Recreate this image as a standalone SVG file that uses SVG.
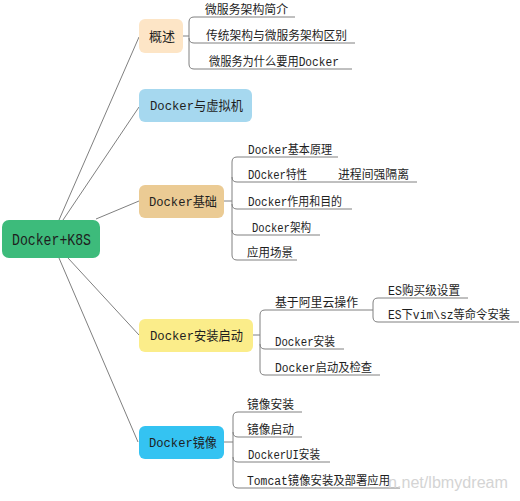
<svg xmlns="http://www.w3.org/2000/svg" width="520" height="501" viewBox="0 0 520 501">
<style>
.ln{fill:none;stroke:#808080;stroke-width:1}
.nt{font-family:"Liberation Mono","Noto Sans CJK SC",monospace;font-size:13px;fill:#1e1e1e}
.ct{font-family:"Liberation Mono","Noto Sans CJK SC",monospace;font-size:12px;fill:#1e1e1e}
.wm{font-family:"Liberation Sans","DejaVu Sans",sans-serif;font-size:16px;fill:#d4d4d4}
</style>
<rect width="520" height="501" fill="#ffffff"/>
<g id="connectors">
<path class="ln" d="M59,220 L139,37 M63,220 L139,107 M96,219 L139,201 M68,258 L139,335 M59,258 L138,442"/>
<path class="ln" d="M183,36 H189 M194,17 Q189,17 189,22 V64 Q189,69 194,69 H352 M194,17 H295 M189,38 Q189,43 194,43 H355"/>
<path class="ln" d="M224,201 H232 M237,157 Q232,157 232,162 V255 Q232,260 237,260 H297 M237,157 H338 M232,177 Q232,182 237,182 H417 M232,204 Q232,209 237,209 H352 M232,230 Q232,235 237,235 H320"/>
<path class="ln" d="M253,335 H260 M265,310 Q260,310 260,315 V370 Q260,375 265,375 H380 M265,310 H373 M260,344 Q260,349 265,349 H344 M378,298 Q373,298 373,303 V317 Q373,322 378,322 H519 M378,298 H468"/>
<path class="ln" d="M224,442 H233 M238,412 Q233,412 233,417 V483 Q233,488 238,488 H400 M238,412 H302 M233,432 Q233,437 238,437 H302 M233,457 Q233,462 238,462 H330"/>
</g>
<g id="root">
<rect x="2" y="220" width="98" height="38" rx="7" fill="#3dbb7b"/>
<text class="nt" style="font-size:16px" x="12" y="245" textLength="79" lengthAdjust="spacingAndGlyphs">Docker+K8S</text>
</g>
<g id="n-overview">
<rect x="139" y="19" width="44" height="34" rx="6" fill="#fde5c6"/>
<text class="nt" x="149" y="41" textLength="26" lengthAdjust="spacingAndGlyphs">概述</text>
</g>
<g id="n-vm">
<rect x="139" y="89" width="113" height="33" rx="6" fill="#a6d8ef"/>
<text class="nt" x="150" y="110" textLength="93" lengthAdjust="spacingAndGlyphs">Docker与虚拟机</text>
</g>
<g id="n-basic">
<rect x="139" y="185" width="85" height="33" rx="6" fill="#ebcb94"/>
<text class="nt" x="149" y="206" textLength="68" lengthAdjust="spacingAndGlyphs">Docker基础</text>
</g>
<g id="n-install">
<rect x="139" y="319" width="114" height="33" rx="6" fill="#fbed8a"/>
<text class="nt" x="150" y="340" textLength="93" lengthAdjust="spacingAndGlyphs">Docker安装启动</text>
</g>
<g id="n-image">
<rect x="139" y="426" width="85" height="33" rx="6" fill="#34c3f2"/>
<text class="nt" x="149" y="447" textLength="68" lengthAdjust="spacingAndGlyphs">Docker镜像</text>
</g>
<g id="c-overview">
<text class="ct" x="205" y="14" textLength="83" lengthAdjust="spacingAndGlyphs">微服务架构简介</text>
<text class="ct" x="206" y="40" textLength="141" lengthAdjust="spacingAndGlyphs">传统架构与微服务架构区别</text>
<text class="ct" x="209" y="66" textLength="130" lengthAdjust="spacingAndGlyphs">微服务为什么要用Docker</text>
</g>
<g id="c-basic">
<text class="ct" x="248" y="154" textLength="84" lengthAdjust="spacingAndGlyphs">Docker基本原理</text>
<text class="ct" x="248" y="179" textLength="59" lengthAdjust="spacingAndGlyphs">DOcker特性</text>
<text class="ct" x="338" y="179" textLength="71" lengthAdjust="spacingAndGlyphs">进程间强隔离</text>
<text class="ct" x="248" y="206" textLength="94" lengthAdjust="spacingAndGlyphs">Docker作用和目的</text>
<text class="ct" x="252" y="232" textLength="59" lengthAdjust="spacingAndGlyphs">Docker架构</text>
<text class="ct" x="247" y="257" textLength="46" lengthAdjust="spacingAndGlyphs">应用场景</text>
</g>
<g id="c-install">
<text class="ct" x="275" y="307" textLength="83" lengthAdjust="spacingAndGlyphs">基于阿里云操作</text>
<text class="ct" x="388" y="295" textLength="72" lengthAdjust="spacingAndGlyphs">ES购买级设置</text>
<text class="ct" x="388" y="319" textLength="122" lengthAdjust="spacingAndGlyphs">ES下vim\sz等命令安装</text>
<text class="ct" x="275" y="346" textLength="60" lengthAdjust="spacingAndGlyphs">Docker安装</text>
<text class="ct" x="275" y="372" textLength="97" lengthAdjust="spacingAndGlyphs">Docker启动及检查</text>
</g>
<g id="c-image">
<text class="ct" x="247" y="409" textLength="47" lengthAdjust="spacingAndGlyphs">镜像安装</text>
<text class="ct" x="247" y="434" textLength="47" lengthAdjust="spacingAndGlyphs">镜像启动</text>
<text class="ct" x="248" y="459" textLength="72" lengthAdjust="spacingAndGlyphs">DockerUI安装</text>
<text class="ct" x="247" y="485" textLength="143" lengthAdjust="spacingAndGlyphs">Tomcat镜像安装及部署应用</text>
</g>
<text class="wm" x="388" y="488" textLength="120" lengthAdjust="spacingAndGlyphs">n.net/lbmydream</text>
</svg>
